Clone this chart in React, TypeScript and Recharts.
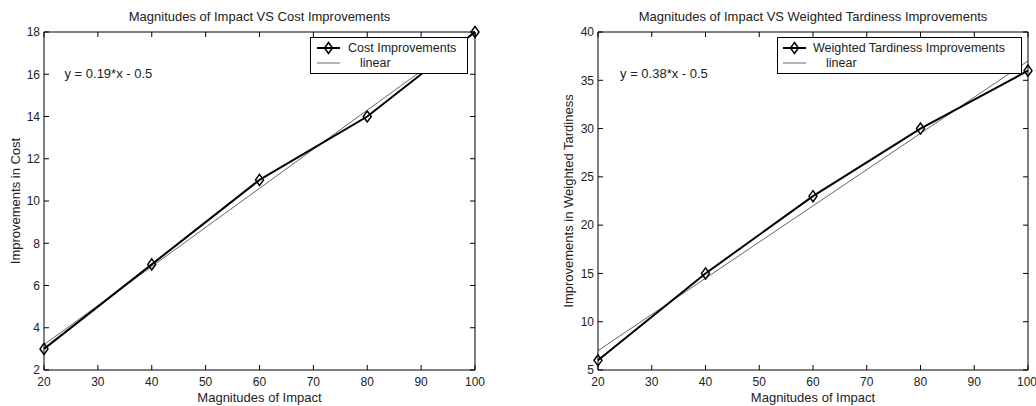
import { LineChart, Line, XAxis, YAxis, Legend, ReferenceDot } from 'recharts'

const impact = [20, 40, 60, 80, 100]
const costImprovements = [3, 7, 11, 14, 18]
const costLinear = [3.2, 6.9, 10.6, 14.3, 18.0]
const tardinessImprovements = [6, 15, 23, 30, 36]
const tardinessLinear = [7, 14.5, 22, 29.5, 37]

const xTicks = [20, 30, 40, 50, 60, 70, 80, 90, 100]
const costTicks = [2, 4, 6, 8, 10, 12, 14, 16, 18]
const tardinessTicks = [5, 10, 15, 20, 25, 30, 35, 40]

const TEXT = '#222'
const FONT = { fontSize: 12, fill: TEXT }
const blank = () => ''

function Diamond({ cx, cy }: { cx: number; cy: number }) {
  return (
    <polygon
      points={`${cx},${cy - 5.5} ${cx + 4},${cy} ${cx},${cy + 5.5} ${cx - 4},${cy}`}
      fill="none"
      stroke="#000"
      strokeWidth={1.5}
    />
  )
}

interface LegendProps {
  name: string
  width: number
  sampleX: number
  textX: number
  linearX: number
}

function LegendBox({ name, width, sampleX, textX, linearX }: LegendProps) {
  return (
    <div style={{ position: 'relative', width, height: 37, boxSizing: 'border-box', border: '1px solid #000', background: '#fff', fontSize: 12.5, color: TEXT }}>
      <svg width={width} height={37} style={{ position: 'absolute', left: -1, top: -1 }}>
        <line x1={sampleX} x2={sampleX + 23} y1={11} y2={11} stroke="#000" strokeWidth={2} />
        <Diamond cx={sampleX + 11.5} cy={11} />
        <line x1={sampleX} x2={sampleX + 23} y1={26} y2={26} stroke="#666" strokeWidth={1} />
      </svg>
      <span style={{ position: 'absolute', left: textX - 1, top: 3, lineHeight: '14px' }}>{name}</span>
      <span style={{ position: 'absolute', left: linearX - 1, top: 18, lineHeight: '14px' }}>linear</span>
    </div>
  )
}

interface PanelProps {
  title: string
  yLabel: string
  seriesName: string
  values: number[]
  linear: number[]
  yTicks: number[]
  fitText: string
  fitX: number
  fitY: number
  yAxisWidth: number
  yLabelOffset: number
  marginRight: number
  legendLeft: number
  legend: LegendProps
}

function Panel(p: PanelProps) {
  const data = impact.map((x, i) => ({ x, value: p.values[i], linear: p.linear[i] }))
  const domain = [p.yTicks[0], p.yTicks[p.yTicks.length - 1]]
  return (
    <LineChart width={518} height={406} data={data} margin={{ top: 31, right: p.marginRight - 1, bottom: 0, left: 0 }}>
      <XAxis
        dataKey="x" type="number" domain={[20, 100]} ticks={xTicks} height={36}
        stroke="#000" tickSize={-5} tickMargin={12} tick={FONT}
        label={{ value: 'Magnitudes of Impact', position: 'insideBottom', offset: 4, fontSize: 13, fill: TEXT }}
      />
      <XAxis
        xAxisId="top" orientation="top" dataKey="x" type="number" domain={[20, 100]} ticks={xTicks}
        height={1} stroke="#000" tickSize={-5} tickMargin={0} tick={FONT} tickFormatter={blank}
        label={{ value: p.title, position: 'top', offset: 10, fontSize: 13, fill: TEXT }}
      />
      <YAxis
        type="number" domain={domain} ticks={p.yTicks} width={p.yAxisWidth}
        stroke="#000" tickSize={-5} tickMargin={9} tick={FONT}
        label={{ value: p.yLabel, angle: -90, position: 'insideLeft', offset: p.yLabelOffset, fontSize: 13, fill: TEXT, style: { textAnchor: 'middle' } }}
      />
      <YAxis
        yAxisId="right" orientation="right" type="number" domain={domain} ticks={p.yTicks}
        width={1} stroke="#000" tickSize={-5} tickMargin={0} tick={FONT} tickFormatter={blank}
      />
      <ReferenceDot
        x={p.fitX} y={p.fitY} r={0} fill="none" stroke="none"
        label={{ value: p.fitText, position: 'right', offset: 0, fontSize: 13, fill: TEXT }}
      />
      <Line
        xAxisId="top" yAxisId="right"
        dataKey="linear" name="linear" stroke="#666" strokeWidth={1} dot={false}
        isAnimationActive={false}
      />
      <Line
        dataKey="value" name={p.seriesName} stroke="#000" strokeWidth={2}
        dot={(d: any) => <Diamond key={d.index} cx={d.cx} cy={d.cy} />}
        isAnimationActive={false}
      />
      <Legend
        content={() => <LegendBox {...p.legend} />}
        wrapperStyle={{ left: p.legendLeft, top: 37, width: p.legend.width, height: 37 }}
        layout="horizontal" verticalAlign="middle" align="center"
      />
    </LineChart>
  )
}

export default function App() {
  return (
    <div style={{ position: 'absolute', left: 0, top: 0, width: 1036, height: 406, display: 'flex', background: '#fff', fontFamily: '"Liberation Sans", Arial, sans-serif' }}>
      <Panel
        title="Magnitudes of Impact VS Cost Improvements"
        yLabel="Improvements in Cost"
        seriesName="Cost Improvements"
        values={costImprovements}
        linear={costLinear}
        yTicks={costTicks}
        fitText="y = 0.19*x - 0.5"
        fitX={23.8}
        fitY={16.05}
        yAxisWidth={44}
        yLabelOffset={15}
        marginRight={43}
        legendLeft={310}
        legend={{ name: 'Cost Improvements', width: 158, sampleX: 7, textX: 38, linearX: 50 }}
      />
      <Panel
        title="Magnitudes of Impact VS Weighted Tardiness Improvements"
        yLabel="Improvements in Weighted Tardiness"
        seriesName="Weighted Tardiness Improvements"
        values={tardinessImprovements}
        linear={tardinessLinear}
        yTicks={tardinessTicks}
        fitText="y = 0.38*x - 0.5"
        fitX={24.1}
        fitY={35.75}
        yAxisWidth={80}
        yLabelOffset={50}
        marginRight={8}
        legendLeft={259}
        legend={{ name: 'Weighted Tardiness Improvements', width: 245, sampleX: 6, textX: 36, linearX: 49 }}
      />
    </div>
  )
}
